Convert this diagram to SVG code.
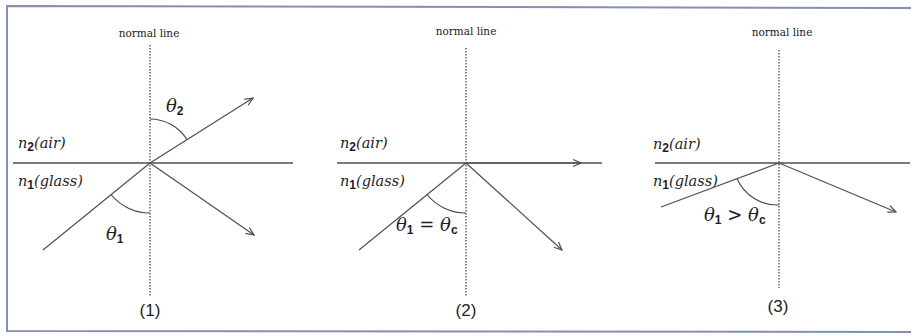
<svg xmlns="http://www.w3.org/2000/svg" width="912" height="336" viewBox="0 0 912 336">
<defs>
<style>
.frame{fill:none;stroke:#8391ae;stroke-width:2}
.normal{stroke:#4a5068;stroke-width:1.3;stroke-dasharray:1.5 1.5;fill:none}
.surf{stroke:#4f4f4f;stroke-width:1.3;fill:none}
.ray{stroke:#4f4f4f;stroke-width:1.2;fill:none}
.arc{stroke:#444;stroke-width:1.1;fill:none}
.nl{font-family:"DejaVu Serif",serif;font-size:10.5px;fill:#222;text-anchor:middle}
.med{font-family:"DejaVu Serif",serif;font-style:italic;font-size:14.5px;fill:#1e1e1e}
.ang{font-family:"DejaVu Serif",serif;font-style:italic;font-size:18px;fill:#1e1e1e}
.sub{font-family:"Liberation Sans",Arial,sans-serif;font-style:normal;font-weight:bold;font-size:12px}
.num{font-family:"Liberation Sans",Arial,sans-serif;font-size:17px;fill:#222;text-anchor:middle}
</style>
<marker id="ah" viewBox="0 0 10 10" refX="9" refY="5" markerWidth="10" markerHeight="10" markerUnits="userSpaceOnUse" orient="auto">
<path d="M1,1.5 L9,5 L1,8.5" fill="none" stroke="#4f4f4f" stroke-width="1.2"/>
</marker>
</defs>
<rect width="912" height="336" fill="#fff"/>
<path class="frame" d="M911,8 L7,6 L7,331 L911,332"/>

<g id="panel1">
<text class="nl" x="149" y="37">normal line</text>
<text class="med" x="18" y="148">n<tspan class="sub" dy="3" font-size="10px">2</tspan><tspan dy="-3">(air)</tspan></text>
<text class="med" x="18" y="186">n<tspan class="sub" dy="3" font-size="10px">1</tspan><tspan dy="-3">(glass)</tspan></text>
<text class="ang" x="166" y="112">θ<tspan class="sub" dy="3" font-size="13px">2</tspan></text>
<text class="ang" x="106" y="240">θ<tspan class="sub" dy="3" font-size="13px">1</tspan></text>
<text class="num" x="150" y="316">(1)</text>
</g>

<g id="panel2">
<text class="nl" x="466" y="35">normal line</text>
<text class="med" x="340" y="148">n<tspan class="sub" dy="3" font-size="10px">2</tspan><tspan dy="-3">(air)</tspan></text>
<text class="med" x="340" y="186">n<tspan class="sub" dy="3" font-size="10px">1</tspan><tspan dy="-3">(glass)</tspan></text>
<text class="ang" x="396" y="231">θ<tspan class="sub" dy="3" font-size="13px">1</tspan><tspan dy="-3"> = θ</tspan><tspan class="sub" dy="3" font-size="13px">c</tspan></text>
<text class="num" x="466" y="316">(2)</text>
</g>

<g id="panel3">
<text class="nl" x="782" y="36">normal line</text>
<text class="med" x="653" y="149">n<tspan class="sub" dy="3" font-size="10px">2</tspan><tspan dy="-3">(air)</tspan></text>
<text class="med" x="653" y="186">n<tspan class="sub" dy="3" font-size="10px">1</tspan><tspan dy="-3">(glass)</tspan></text>
<text class="ang" x="704" y="221">θ<tspan class="sub" dy="3" font-size="13px">1</tspan><tspan dy="-3"> &gt; θ</tspan><tspan class="sub" dy="3" font-size="13px">c</tspan></text>
<text class="num" x="778" y="312">(3)</text>
</g>

<g id="connectors">
<!-- panel 1 -->
<line class="normal" x1="150" y1="45" x2="150" y2="297"/>
<line class="surf" x1="13" y1="163" x2="293" y2="163"/>
<line class="ray" x1="43" y1="250" x2="150" y2="163"/>
<line class="ray" x1="150" y1="163" x2="253" y2="98" marker-end="url(#ah)"/>
<line class="ray" x1="150" y1="163" x2="254" y2="235" marker-end="url(#ah)"/>
<path class="arc" d="M150,119 A44,44 0 0 1 187,139.5"/>
<path class="arc" d="M111,194.5 A50,50 0 0 0 150,213"/>
<!-- panel 2 -->
<line class="normal" x1="466" y1="48" x2="466" y2="297"/>
<line class="surf" x1="337" y1="163" x2="602" y2="163"/>
<line class="ray" x1="466" y1="163" x2="581" y2="163" marker-end="url(#ah)"/>
<line class="ray" x1="359" y1="250" x2="466" y2="163"/>
<line class="ray" x1="466" y1="163" x2="562" y2="250" marker-end="url(#ah)"/>
<path class="arc" d="M427,194.5 A50,50 0 0 0 466,213"/>
<!-- panel 3 -->
<line class="normal" x1="779" y1="50" x2="779" y2="288"/>
<line class="surf" x1="655" y1="163" x2="910" y2="163"/>
<line class="ray" x1="661" y1="207" x2="779" y2="163"/>
<line class="ray" x1="779" y1="163" x2="896" y2="212" marker-end="url(#ah)"/>
<path class="arc" d="M737,178.5 A44,44 0 0 0 779,205"/>
</g>
</svg>
